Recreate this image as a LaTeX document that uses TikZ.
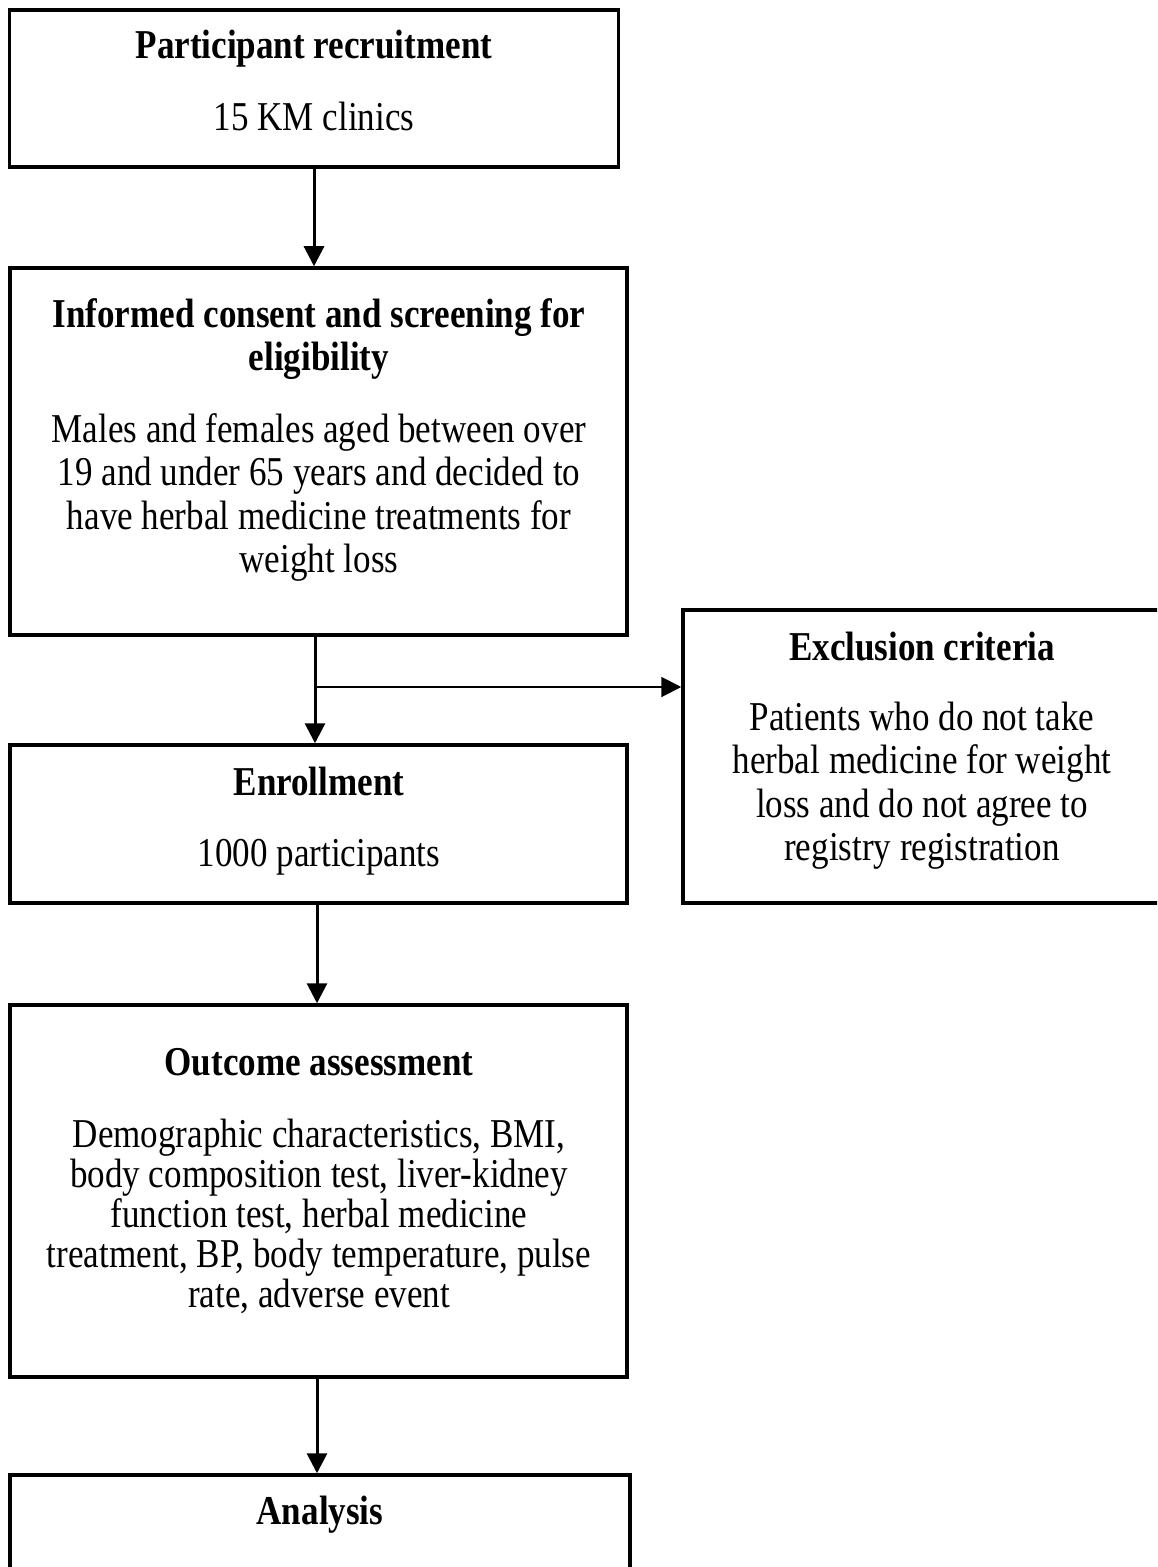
\documentclass[tikz,border=0pt]{standalone}
\usepackage{fontspec}
\setmainfont[FakeStretch=0.855]{Liberation Serif}
\usetikzlibrary{arrows.meta}
\begin{document}
\begin{tikzpicture}[x=1bp,y=-1bp,
  box/.style={draw, line width=3.5bp, rectangle, inner sep=0pt},
  hd/.style={anchor=base, inner sep=0pt, font=\fontsize{41bp}{44bp}\selectfont\bfseries},
  txt/.style={anchor=base, inner sep=0pt, font=\fontsize{41bp}{44bp}\selectfont},
  flow/.style={line width=3bp, -{Triangle[length=20bp,width=20bp]}},
  side/.style={line width=2bp, -{Triangle[length=20bp,width=20bp]}}]
\useasboundingbox (0,0) rectangle (1157,1567);
\clip (0,0) rectangle (1157,1567);
\fill[white] (0,0) rectangle (1157,1567);

% boxes
\node[box, minimum width=609bp, minimum height=157bp] (b1) at (314,88.5) {};
\node[box, minimum width=617bp, minimum height=367bp] (b2) at (318.5,451.5) {};
\node[box, minimum width=617bp, minimum height=158bp] (b3) at (318.5,824) {};
\node[box, minimum width=478bp, minimum height=293bp] (b4) at (922,756.5) {};
\node[box, minimum width=617bp, minimum height=372bp] (b5) at (318.5,1191) {};
\node[box, minimum width=620bp, minimum height=145bp] (b6) at (320,1547.5) {};

% box 1
\node[hd] (h1) at (314,59) {Participant recruitment};
\node[txt] (t1) at (314,130.5) {15 KM clinics};

% box 2
\node[hd] (h2a) at (319,327) {Informed consent and screening for};
\node[hd] (h2b) at (319,370) {eligibility};
\node[txt] (t2a) at (319,442) {Males and females aged between over};
\node[txt] (t2b) at (319,485.5) {19 and under 65 years and decided to};
\node[txt] (t2c) at (319,529) {have herbal medicine treatments for};
\node[txt] (t2d) at (319,572.5) {weight loss};

% box 3
\node[hd] (h3) at (319,795) {Enrollment};
\node[txt] (t3) at (319,866) {1000 participants};

% box 4
\node[hd] (h4) at (922,660) {Exclusion criteria};
\node[txt] (t4a) at (922,730) {Patients who do not take};
\node[txt] (t4b) at (922,773.5) {herbal medicine for weight};
\node[txt] (t4c) at (922,817) {loss and do not agree to};
\node[txt] (t4d) at (922,860.5) {registry registration};

% box 5
\node[hd] (h5) at (319,1075.5) {Outcome assessment};
\node[txt] (t5a) at (319,1147) {Demographic characteristics, BMI,};
\node[txt] (t5b) at (319,1187) {body composition test, liver-kidney};
\node[txt] (t5c) at (319,1227) {function test, herbal medicine};
\node[txt] (t5d) at (319,1267) {treatment, BP, body temperature, pulse};
\node[txt] (t5e) at (319,1307) {rate, adverse event};

% box 6
\node[hd] (h6) at (320,1524) {Analysis};

% connectors
\draw[flow] (b1.south) -- (b1.south |- b2.north);
\draw[flow] ([xshift=-3.5bp]b2.south) -- ([xshift=-3.5bp]b3.north);
\coordinate (j) at ([xshift=-3.5bp]b2.south |- 0,687);
\draw[side] (j) -- (j -| b4.west);
\draw[flow] ([xshift=-1.5bp]b3.south) -- ([xshift=-1.5bp]b5.north);
\draw[flow] ([xshift=-1.5bp]b5.south) -- ([xshift=-1.5bp]b5.south |- b6.north);
\end{tikzpicture}
\end{document}
